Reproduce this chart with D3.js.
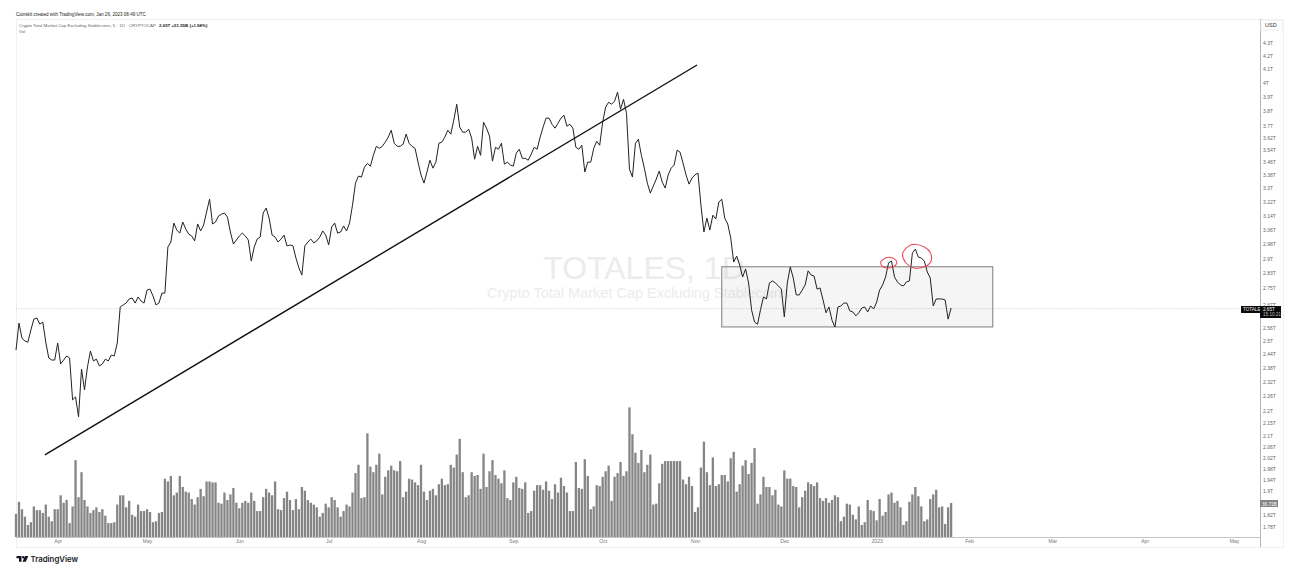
<!DOCTYPE html>
<html>

<head>
  <title>TOTALES, 1D</title>
  <script src="https://cdn.jsdelivr.net/npm/d3@7"></script>
</head>
<style>
  html, body { margin: 0; background: #fff; }
  svg { display: block; }
  text { font-family: "Liberation Sans", Arial, sans-serif; }
</style>

<body>
  <svg id="chart" width="1291" height="573"></svg>
  <script>
    var startDate = '2022-03-18';
    // daily close in trillions of USD
    var prices = [
      2.457, 2.581, 2.511, 2.498, 2.493, 2.549, 2.600, 2.605, 2.576, 2.586,
      2.493, 2.422, 2.413, 2.413, 2.489, 2.396, 2.413, 2.431, 2.422, 2.244,
      2.256, 2.176, 2.374, 2.285, 2.383, 2.453, 2.409, 2.417, 2.387, 2.396,
      2.417, 2.409, 2.435, 2.431, 2.489, 2.658, 2.668, 2.677, 2.697, 2.702,
      2.677, 2.707, 2.687, 2.677, 2.741, 2.746, 2.712, 2.668, 2.677, 2.726,
      2.726, 2.965, 2.992, 3.097, 3.058, 3.041, 3.103, 3.064, 3.035, 3.025,
      2.998, 3.092, 3.053, 3.086, 3.160, 3.235, 3.092, 3.103, 3.137, 3.148,
      3.154, 3.131, 3.047, 2.981, 3.003, 3.025, 3.041, 3.025, 3.003, 2.890,
      2.965, 3.008, 3.019, 3.154, 3.183, 3.125, 3.030, 3.019, 2.992, 3.008,
      3.030, 2.971, 2.976, 2.971, 2.906, 2.854, 2.817, 2.971, 2.992, 3.008,
      2.987, 2.998, 3.019, 3.053, 3.030, 2.976, 3.075, 3.097, 3.041, 3.047,
      3.081, 3.053, 3.097, 3.200, 3.331, 3.374, 3.368, 3.429, 3.453, 3.435,
      3.504, 3.562, 3.549, 3.562, 3.589, 3.622, 3.668, 3.582, 3.562, 3.562,
      3.576, 3.642, 3.582, 3.562, 3.549, 3.461, 3.381, 3.331, 3.399, 3.473,
      3.423, 3.461, 3.582, 3.589, 3.622, 3.668, 3.642, 3.735, 3.846, 3.689,
      3.655, 3.655, 3.675, 3.616, 3.479, 3.562, 3.504, 3.722, 3.682, 3.629,
      3.467, 3.556, 3.543, 3.582, 3.448, 3.461, 3.442, 3.436, 3.518, 3.543,
      3.485, 3.485, 3.473, 3.511, 3.556, 3.543, 3.622, 3.689, 3.750, 3.750,
      3.708, 3.682, 3.715, 3.750, 3.770, 3.695, 3.708, 3.682, 3.556, 3.543,
      3.569, 3.399, 3.461, 3.461, 3.549, 3.595, 3.569, 3.722, 3.826, 3.860,
      3.846, 3.867, 3.932, 3.811, 3.881, 3.783, 3.417, 3.368, 3.582, 3.608,
      3.504, 3.423, 3.331, 3.271, 3.313, 3.356, 3.405, 3.337, 3.301, 3.381,
      3.423, 3.442, 3.537, 3.524, 3.454, 3.381, 3.325, 3.362, 3.381, 3.393,
      3.200, 3.047, 3.125, 3.058, 3.142, 3.120, 3.218, 3.235, 3.125, 3.092,
      3.014, 2.885, 2.916, 2.869, 2.807, 2.849, 2.777, 2.644, 2.586, 2.576,
      2.644, 2.707, 2.697, 2.777, 2.787, 2.777, 2.762, 2.746, 2.610, 2.777,
      2.859, 2.802, 2.717, 2.717, 2.741, 2.767, 2.839, 2.817, 2.812, 2.746,
      2.752, 2.692, 2.630, 2.658, 2.595, 2.563, 2.658, 2.663, 2.677, 2.677,
      2.639, 2.634, 2.615, 2.630, 2.653, 2.658, 2.634, 2.663, 2.648, 2.682,
      2.741, 2.767, 2.807, 2.880, 2.890, 2.807, 2.782, 2.767, 2.762, 2.782,
      2.787, 2.932, 2.954, 2.911, 2.906, 2.890, 2.833, 2.802, 2.663, 2.697,
      2.697, 2.697, 2.692, 2.600, 2.653
    ];
    // daily volume in billions of USD
    var volumes = [
      25, 38, 30, 22, 13, 16, 33, 29, 29, 26,
      35, 22, 17, 30, 30, 45, 37, 40, 15, 33,
      83, 43, 70, 40, 33, 26, 29, 32, 27, 30,
      23, 15, 15, 16, 35, 45, 45, 32, 39, 24,
      22, 35, 28, 28, 30, 27, 16, 17, 26, 27,
      63, 60, 66, 45, 48, 66, 54, 49, 48, 41,
      35, 43, 52, 44, 60, 60, 59, 59, 37, 36,
      48, 40, 46, 53, 37, 31, 37, 39, 37, 48,
      39, 28, 28, 43, 52, 48, 45, 60, 30, 29,
      42, 49, 40, 29, 41, 30, 54, 50, 40, 37,
      35, 32, 22, 26, 36, 32, 43, 40, 32, 22,
      28, 35, 33, 48, 69, 78, 42, 43, 112, 76,
      70, 78, 90, 46, 65, 72, 77, 72, 71, 82,
      43, 49, 63, 62, 59, 56, 78, 49, 40, 50,
      52, 45, 57, 63, 56, 57, 78, 75, 89, 106,
      70, 43, 45, 70, 66, 67, 52, 90, 54, 71,
      83, 67, 63, 58, 72, 42, 40, 59, 65, 53,
      52, 59, 26, 28, 50, 56, 56, 51, 60, 50,
      41, 57, 48, 64, 55, 48, 28, 28, 81, 53,
      52, 84, 66, 30, 33, 56, 55, 65, 71, 77,
      39, 65, 69, 81, 66, 71, 140, 111, 91, 80,
      94, 70, 78, 89, 35, 36, 58, 79, 82, 82,
      82, 82, 82, 82, 62, 57, 65, 55, 27, 32,
      75, 103, 70, 56, 86, 55, 57, 67, 67, 60,
      85, 92, 49, 57, 77, 83, 68, 80, 96, 36,
      46, 65, 54, 54, 45, 51, 35, 33, 72, 63,
      63, 55, 54, 32, 43, 50, 59, 57, 55, 59,
      42, 39, 42, 37, 40, 45, 43, 17, 22, 36,
      35, 24, 19, 33, 13, 16, 40, 29, 28, 18,
      41, 23, 27, 46, 48, 37, 39, 32, 13, 17,
      38, 46, 54, 44, 33, 17, 19, 41, 46, 51,
      32, 33, 14, 32, 36.71
    ];
    var priceTicks = [4.3, 4.2, 4.1, 4, 3.9, 3.8, 3.7, 3.62, 3.54, 3.46, 3.38, 3.3, 3.22, 3.14, 3.06, 2.98, 2.9, 2.83,
      2.75, 2.67, 2.56, 2.5, 2.44, 2.38, 2.32, 2.26, 2.2, 2.15, 2.1, 2.06, 2.02, 1.98, 1.94, 1.9, 1.82, 1.78];
    var monthTicks = ['2022-04-01', '2022-05-01', '2022-06-01', '2022-07-01', '2022-08-01', '2022-09-01', '2022-10-01',
      '2022-11-01', '2022-12-01', '2023-01-01', '2023-02-01', '2023-03-01', '2023-04-01', '2023-05-01'];
    var monthLabels = ['Apr', 'May', 'Jun', 'Jul', 'Aug', 'Sep', 'Oct', 'Nov', 'Dec', '2023', 'Feb', 'Mar', 'Apr', 'May'];

    // drawings on the chart, [days after startDate, price]
    var trendLine = [[9.7, 2.03], [228.7, 4.131]];
    var rangeBox = [[237, 2.860], [328, 2.563]];
    var smallCircle = [[290.4, 2.885], [291.8, 2.905], [293.2, 2.910], [295.2, 2.899], [295.8, 2.879], [294.5, 2.859], [292.5, 2.854], [290.8, 2.864]];
    var bigCircle = [[297.7, 2.927], [299.6, 2.968], [301.8, 2.980], [305.2, 2.964], [307.1, 2.932], [307.2, 2.887], [304.6, 2.857], [301.3, 2.855], [298.8, 2.881]];

    var lastPrice = 2.65;

    var parseDay = d3.utcParse('%Y-%m-%d');
    var start = parseDay(startDate);
    var dayAt = function (n) { return new Date(+start + n * 864e5); };

    var svg = d3.select('#chart');

    var x = d3.scaleUtc().domain([start, parseDay('2023-05-01')]).range([16, 1234]);
    var y = d3.scaleLog().domain([4.3, 1.78]).range([43, 527]);
    var yVol = d3.scaleLinear().domain([0, 140.4]).range([537, 407]);

    // pane frame
    var frame = svg.append('g').attr('fill', 'none');
    frame.append('path').attr('d', 'M16.5,19.5H1283.5V547.5H16.5Z').attr('stroke', '#f0f0f0');
    frame.append('path').attr('d', 'M16,537.5H1260').attr('stroke', '#c4c4c4');
    frame.append('path').attr('d', 'M1260.5,19V547').attr('stroke', '#b4b4b4');

    // watermark
    svg.append('text').attr('x', 644).attr('y', 279).attr('text-anchor', 'middle')
      .attr('font-size', 32).attr('fill', '#ececec').text('TOTALES, 1D');
    svg.append('text').attr('x', 638).attr('y', 298).attr('text-anchor', 'middle')
      .attr('font-size', 14.5).attr('fill', '#ececec').text('Crypto Total Market Cap Excluding Stablecoins');

    // last price line
    svg.append('line').attr('x1', 16).attr('x2', 1241).attr('y1', y(lastPrice)).attr('y2', y(lastPrice))
      .attr('stroke', '#c0c0c0').attr('stroke-width', 0.8).attr('stroke-dasharray', '1 1.5');

    // volume
    svg.append('g').selectAll('rect').data(volumes).join('rect')
      .attr('x', function (d, i) { return x(dayAt(i)) - 1.15; })
      .attr('width', 2.3)
      .attr('y', function (d) { return yVol(d); })
      .attr('height', function (d) { return yVol(0) - yVol(d); })
      .attr('fill', '#858585');

    // range box
    svg.append('rect')
      .attr('x', x(dayAt(rangeBox[0][0])))
      .attr('y', y(rangeBox[0][1]))
      .attr('width', x(dayAt(rangeBox[1][0])) - x(dayAt(rangeBox[0][0])))
      .attr('height', y(rangeBox[1][1]) - y(rangeBox[0][1]))
      .attr('fill', '#787878').attr('fill-opacity', 0.07)
      .attr('stroke', '#7c7c7c').attr('stroke-width', 1);

    // price
    var priceLine = d3.line()
      .x(function (d, i) { return x(dayAt(i)); })
      .y(function (d) { return y(d); });
    svg.append('path').datum(prices).attr('d', priceLine)
      .attr('fill', 'none').attr('stroke', '#222').attr('stroke-width', 1).attr('stroke-linejoin', 'round');

    // trend line
    var drawn = d3.line()
      .x(function (d) { return x(dayAt(d[0])); })
      .y(function (d) { return y(d[1]); });
    svg.append('path').datum(trendLine).attr('d', drawn)
      .attr('fill', 'none').attr('stroke', '#111').attr('stroke-width', 1.4);

    // red marks
    var circled = drawn.curve(d3.curveCardinalClosed);
    svg.append('g').selectAll('path').data([smallCircle, bigCircle]).join('path')
      .attr('d', circled)
      .attr('fill', 'none').attr('stroke', '#ee4a5e').attr('stroke-width', 1.1);

    // axes
    var axisRight = d3.axisRight(y).tickValues(priceTicks).tickSize(0).tickPadding(3)
      .tickFormat(function (d) { return d + 'T'; });
    var gy = svg.append('g').attr('transform', 'translate(1260,0)').call(axisRight);
    gy.select('.domain').remove();
    gy.selectAll('text').attr('font-size', 5).attr('fill', '#666').attr('font-family', '"Liberation Sans", Arial, sans-serif');

    var axisBottom = d3.axisBottom(x).tickValues(monthTicks.map(parseDay)).tickSize(0).tickPadding(2)
      .tickFormat(function (d, i) { return monthLabels[i]; });
    var gx = svg.append('g').attr('transform', 'translate(0,537)').call(axisBottom);
    gx.select('.domain').remove();
    gx.selectAll('text').attr('font-size', 5).attr('fill', '#777').attr('font-family', '"Liberation Sans", Arial, sans-serif');

    // USD box
    svg.append('rect').attr('x', 1261).attr('y', 20).attr('width', 21).attr('height', 10)
      .attr('fill', '#fff').attr('stroke', '#eee');
    svg.append('text').attr('x', 1265).attr('y', 27).attr('font-size', 5.5).attr('fill', '#333').text('USD');

    // price tags
    var tag = svg.append('g').attr('font-size', 4.6);
    tag.append('rect').attr('x', 1241).attr('y', 306).attr('width', 19).attr('height', 7).attr('fill', '#0a0a0a');
    tag.append('text').attr('x', 1243).attr('y', 311).attr('fill', '#eee').text('TOTALES');
    tag.append('rect').attr('x', 1260).attr('y', 306).attr('width', 21).attr('height', 12).attr('fill', '#0a0a0a');
    tag.append('text').attr('x', 1263).attr('y', 311).attr('fill', '#fff').text(lastPrice + 'T');
    tag.append('text').attr('x', 1263).attr('y', 316).attr('fill', '#bbb').text('15:10:21');
    tag.append('rect').attr('x', 1260).attr('y', 500).attr('width', 18).attr('height', 7).attr('fill', '#858585');
    tag.append('text').attr('x', 1262).attr('y', 505.5).attr('fill', '#fff').text(volumes[volumes.length - 1] + 'B');

    // header
    svg.append('text').attr('x', 16).attr('y', 16).attr('font-size', 4.55).attr('fill', '#222')
      .text('Coinskit created with TradingView.com, Jan 26, 2023 08:49 UTC');
    var legend = svg.append('text').attr('x', 19).attr('y', 26.6).attr('font-size', 4.4).attr('fill', '#666');
    legend.append('tspan').text('Crypto Total Market Cap Excluding Stablecoins, 5 \u00b7 1D \u00b7 CRYPTOCAP  ');
    legend.append('tspan').attr('dx', 2).attr('fill', '#222').attr('font-weight', 'bold').text('2.65T  +51.55B (+1.98%)');
    svg.append('text').attr('x', 19).attr('y', 32.5).attr('font-size', 4.4).attr('fill', '#666').text('Vol');

    // TradingView mark
    var logo = svg.append('g').attr('fill', '#131722');
    logo.append('path').attr('d', 'M16.5,556H21.5V561.8H19V558.2H16.5Z');
    logo.append('circle').attr('cx', 23.2).attr('cy', 557.2).attr('r', 1.2);
    logo.append('path').attr('d', 'M25,556H28.3L25.8,561.8H22.5Z');
    logo.append('text').attr('x', 30.5).attr('y', 562).attr('font-size', 7.8).attr('font-weight', 600)
      .style('font-family', 'Inter, sans-serif').text('TradingView');
  </script>
</body>

</html>
